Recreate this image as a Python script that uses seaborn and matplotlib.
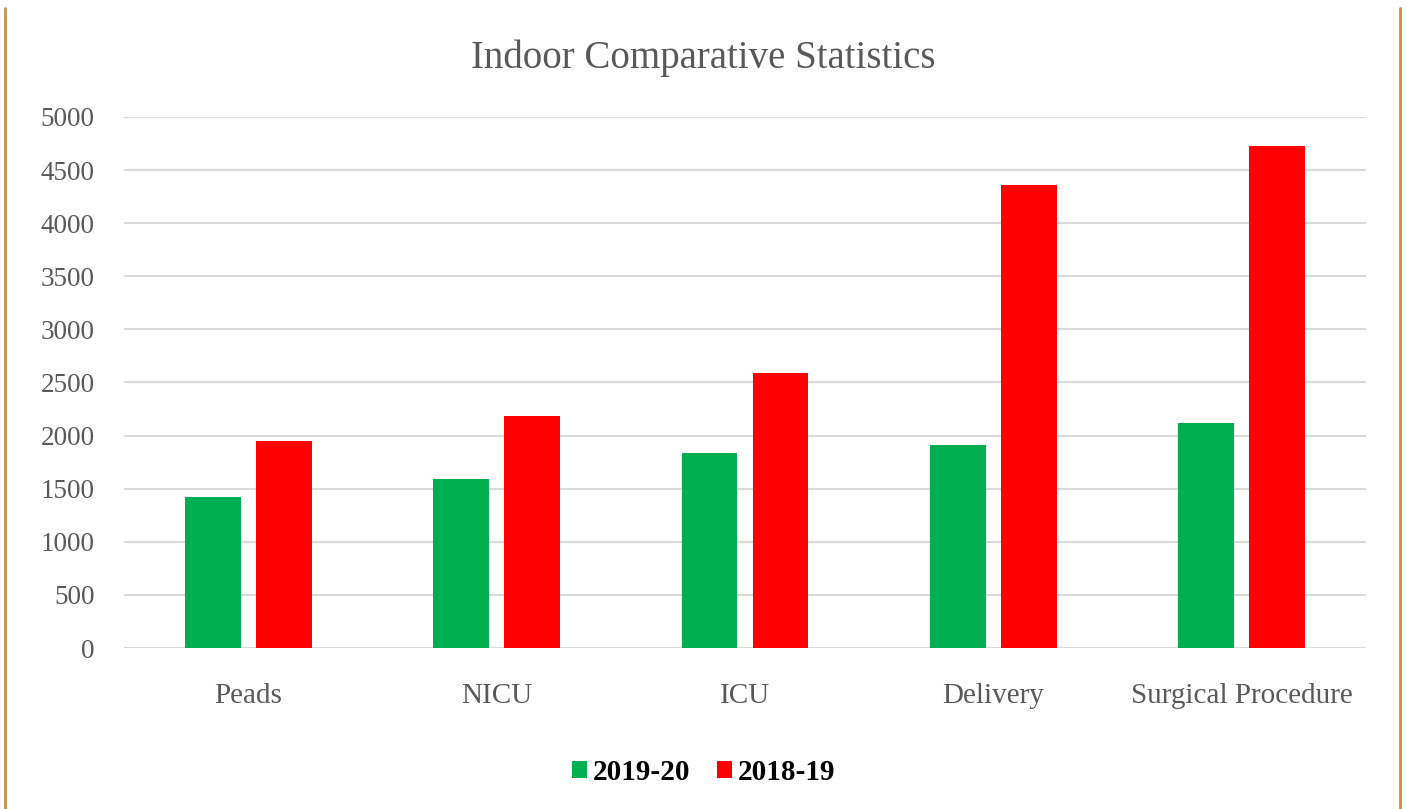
import matplotlib
matplotlib.use("Agg")
import matplotlib.pyplot as plt
import seaborn as sns
import pandas as pd
from matplotlib.lines import Line2D
from matplotlib.patches import Patch

categories = ["Peads", "NICU", "ICU", "Delivery", "Surgical Procedure"]
series_names = ["2019-20", "2018-19"]
values_2019_20 = [1425, 1590, 1838, 1912, 2118]
values_2018_19 = [1950, 2183, 2590, 4358, 4730]
y_ticks = [0, 500, 1000, 1500, 2000, 2500, 3000, 3500, 4000, 4500, 5000]
colors = ["#00B050", "#FF0000"]

df = pd.DataFrame({
    "Category": categories * 2,
    "Series": [series_names[0]] * len(categories) + [series_names[1]] * len(categories),
    "Value": values_2019_20 + values_2018_19,
})

sns.set_theme(style="white")
plt.rcParams["font.family"] = ["Liberation Serif", "DejaVu Serif"]

fig = plt.figure(figsize=(14.07, 8.09), dpi=100)
ax = fig.add_axes([0.0881, 0.199, 0.8828, 0.6564])

sns.barplot(data=df, x="Category", y="Value", hue="Series", hue_order=series_names,
            palette=colors, width=0.572, gap=0.213, ax=ax, legend=False,
            saturation=1.0, linewidth=0, zorder=3)

ax.set_ylim(0, 5000)
ax.set_xlim(-0.5, len(categories) - 0.5)
ax.set_yticks(y_ticks)
ax.set_yticklabels([str(t) for t in y_ticks])
ax.grid(axis="y", color="#D9D9D9", linewidth=1.5, zorder=0)
ax.set_axisbelow(True)
for s in ax.spines.values():
    s.set_visible(False)
ax.tick_params(axis="y", length=0, pad=21, labelsize=19.5, labelcolor="#595959")
ax.tick_params(axis="x", length=0, pad=25, labelsize=21, labelcolor="#595959")
ax.set_xlabel("")
ax.set_ylabel("")

fig.text(0.5, 1 - 58 / 809, "Indoor Comparative Statistics", ha="center", va="center",
         fontsize=28, color="#595959")

handles = [Patch(facecolor=c, edgecolor="none") for c in colors]
leg = fig.legend(handles, series_names, loc="center", bbox_to_anchor=(0.5, 1 - 772 / 809),
                 ncol=2, frameon=False, prop={"weight": "bold", "size": 21},
                 handlelength=0.52, handleheight=0.52, handletextpad=0.2, columnspacing=0.9)
for t in leg.get_texts():
    t.set_color("black")

border = "#C8904C"
fig.add_artist(Line2D([5 / 1407, 5 / 1407], [0, 1 - 8 / 809], transform=fig.transFigure,
                      color=border, linewidth=2))
fig.add_artist(Line2D([1400 / 1407, 1400 / 1407], [0, 1 - 8 / 809], transform=fig.transFigure,
                      color=border, linewidth=2))

fig.savefig("out.png", dpi=100)
